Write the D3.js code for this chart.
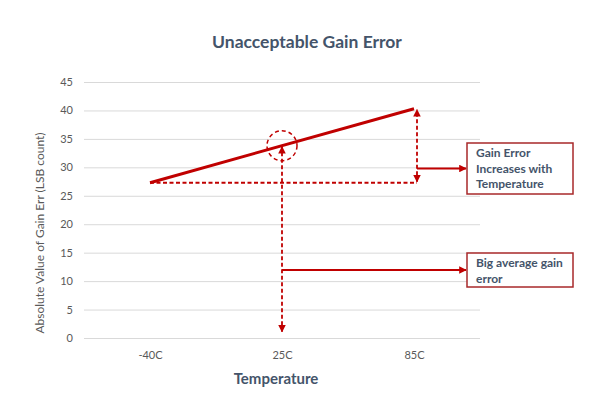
<!DOCTYPE html>
<html>
<head>
<meta charset="utf-8">
<script src="https://cdn.jsdelivr.net/npm/d3@7"></script>
<style>
  body { margin: 0; background: #fff; }
  text { font-family: Lato, "Open Sans", sans-serif; }
</style>
</head>
<body>
<div id="chart-area"></div>
<script>
// data
var categories = ["-40C", "25C", "85C"];
var gainErr = [27.3, 33.8, 40.3];
var yTicks = [0, 5, 10, 15, 20, 25, 30, 35, 40, 45];
var noteTexts = [
    ["Gain Error", "Increases with", "Temperature"],
    ["Big average gain", "error"]
];

var width = 597, height = 397;
var margin = {left: 84, right: 117, top: 82, bottom: 59};

var red = "#c00000";
var boxRed = "#a8282a";
var slate = "#44546a";
var grey = "#595959";

var svg = d3.select("#chart-area").append("svg")
    .attr("width", width)
    .attr("height", height);

var x = d3.scalePoint()
    .domain(categories)
    .range([margin.left, width - margin.right])
    .padding(0.5);

var y = d3.scaleLinear()
    .domain([0, 45])
    .range([height - margin.bottom, margin.top]);

// arrow markers
var defs = svg.append("defs");
defs.append("marker")
    .attr("id", "head")
    .attr("viewBox", "0 0 10 10")
    .attr("refX", 9).attr("refY", 5)
    .attr("markerWidth", 4.2).attr("markerHeight", 4.2)
    .attr("markerUnits", "strokeWidth")
    .attr("orient", "auto-start-reverse")
    .append("path")
    .attr("d", "M0,0 L10,5 L0,10 z")
    .attr("fill", red);

// title
svg.append("text")
    .attr("x", 307).attr("y", 48)
    .attr("text-anchor", "middle")
    .attr("font-size", 17.5)
    .attr("font-weight", "bold")
    .attr("fill", slate)
    .text("Unacceptable Gain Error");

// gridlines + y labels
var yAxis = d3.axisLeft(y).tickValues(yTicks)
    .tickSize(-(width - margin.left - margin.right))
    .tickPadding(11);
var gy = svg.append("g")
    .attr("transform", "translate(" + margin.left + ",0)")
    .call(yAxis);
gy.select(".domain").remove();
gy.selectAll(".tick line").attr("stroke", "#d9d9d9");
gy.selectAll(".tick text")
    .attr("fill", grey)
    .attr("font-size", 11)
    .style("font-family", "Lato, sans-serif");

// x labels
var xAxis = d3.axisBottom(x).tickSize(0).tickPadding(13);
var gx = svg.append("g")
    .attr("transform", "translate(0," + y(0) + ")")
    .call(xAxis);
gx.select(".domain").remove();
gx.selectAll(".tick text")
    .attr("fill", grey)
    .attr("font-size", 11)
    .style("font-family", "Lato, sans-serif");

// axis titles
svg.append("text")
    .attr("x", 276).attr("y", 384)
    .attr("text-anchor", "middle")
    .attr("font-size", 15)
    .attr("font-weight", "bold")
    .attr("fill", slate)
    .text("Temperature");

svg.append("text")
    .attr("transform", "translate(44,233) rotate(-90)")
    .attr("text-anchor", "middle")
    .attr("font-size", 12)
    .attr("fill", grey)
    .text("Absolute Value of Gain Err (LSB count)");

// main line (endpoints only, as in the reference)
var pts = categories.map(function(c, i) { return {c: c, v: gainErr[i]}; });
var line = d3.line()
    .x(function(d) { return x(d.c); })
    .y(function(d) { return y(d.v); });
svg.append("path")
    .datum([pts[0], pts[2]])
    .attr("d", line)
    .attr("fill", "none")
    .attr("stroke", red)
    .attr("stroke-width", 3);

var ann = svg.append("g")
    .attr("fill", "none")
    .attr("stroke", red);

var xR = x("85C") + 3;
var xM = x("25C");
var yBase = y(gainErr[0]);

// horizontal dashed baseline
ann.append("line")
    .attr("x1", x("-40C")).attr("y1", yBase)
    .attr("x2", xR).attr("y2", yBase)
    .attr("stroke-width", 2)
    .attr("stroke-dasharray", "4,2.5");

// vertical double arrow at 85C
ann.append("line")
    .attr("x1", xR).attr("y1", yBase - 1)
    .attr("x2", xR).attr("y2", y(gainErr[2]) + 1)
    .attr("stroke-width", 1.8)
    .attr("stroke-dasharray", "4,2.5")
    .attr("marker-start", "url(#head)")
    .attr("marker-end", "url(#head)");

// circle at 25C
ann.append("circle")
    .attr("cx", xM).attr("cy", y(gainErr[1]))
    .attr("r", 15)
    .attr("stroke-width", 1.5)
    .attr("stroke-dasharray", "4,3");

// vertical double arrow at 25C
ann.append("line")
    .attr("x1", xM).attr("y1", y(1.1))
    .attr("x2", xM).attr("y2", y(gainErr[1]) + 1)
    .attr("stroke-width", 1.8)
    .attr("stroke-dasharray", "4,2.5")
    .attr("marker-start", "url(#head)")
    .attr("marker-end", "url(#head)");

// note boxes
var boxes = [
    {x0: xR, top: 143, h: 51, lines: noteTexts[0]},
    {x0: xM, top: 253, h: 34, lines: noteTexts[1]}
];
var boxLeft = 467, boxW = 106;

boxes.forEach(function(b) {
    var cy = b.top + b.h / 2;
    ann.append("line")
        .attr("x1", b.x0).attr("y1", cy)
        .attr("x2", boxLeft - 1).attr("y2", cy)
        .attr("stroke-width", 1.8)
        .attr("marker-end", "url(#head)");
    svg.append("rect")
        .attr("x", boxLeft).attr("y", b.top)
        .attr("width", boxW).attr("height", b.h)
        .attr("fill", "#fff")
        .attr("stroke", boxRed)
        .attr("stroke-width", 1.5);
    var t = svg.append("text")
        .attr("x", boxLeft + 9)
        .attr("y", b.top + 14)
        .attr("font-size", 12)
        .attr("font-weight", "bold")
        .attr("fill", slate);
    b.lines.forEach(function(s, i) {
        t.append("tspan")
            .attr("x", boxLeft + 9)
            .attr("dy", i === 0 ? 0 : 15.5)
            .text(s);
    });
});
</script>
</body>
</html>
